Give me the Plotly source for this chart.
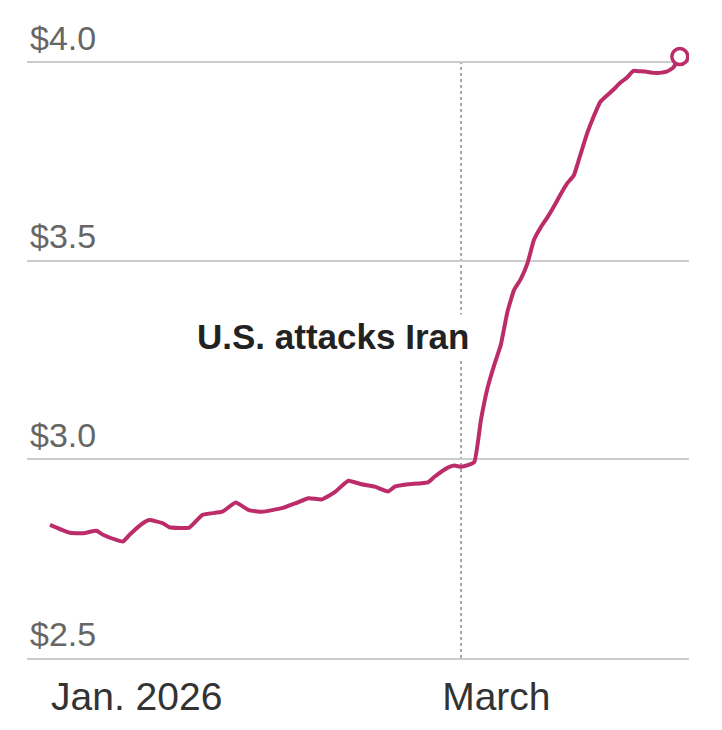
import pandas as pd
import plotly.graph_objects as go

# Daily average gas price (USD per gallon), days counted from Jan. 1, 2026
day_offsets = [0, 3, 5, 7, 8, 10, 11, 12, 14, 15, 17, 18, 21, 23, 26, 28, 30, 32, 35, 37,
               39, 41, 43, 45, 47, 49, 51, 52, 54, 57, 58, 60, 61, 62, 63, 64, 65, 66, 67, 68,
               69, 70, 71, 72, 73, 74, 75, 76, 77, 78, 79, 80, 81, 82, 83, 84, 85, 86, 87, 88,
               89, 90, 91, 92, 93, 94, 95]
prices = [2.835, 2.815, 2.814, 2.820, 2.810, 2.797, 2.793, 2.810, 2.839, 2.847, 2.839, 2.829,
          2.828, 2.860, 2.868, 2.891, 2.872, 2.868, 2.877, 2.889, 2.902, 2.899, 2.918, 2.946,
          2.937, 2.931, 2.919, 2.931, 2.937, 2.942, 2.956, 2.979, 2.984, 2.981, 2.985, 2.993,
          3.099, 3.180, 3.237, 3.288, 3.371, 3.426, 3.453, 3.492, 3.552, 3.583, 3.608, 3.636,
          3.666, 3.694, 3.714, 3.766, 3.819, 3.862, 3.899, 3.915, 3.930, 3.947, 3.960, 3.977,
          3.976, 3.975, 3.972, 3.972, 3.975, 3.985, 4.013]

start_date = pd.Timestamp("2026-01-01")
dates = [start_date + pd.Timedelta(days=d) for d in day_offsets]

tick_dates = ["2026-01-01", "2026-03-01"]
tick_labels = ["Jan. 2026", "March"]
y_ticks = [2.5, 3.0, 3.5, 4.0]
y_tick_labels = ["$2.5", "$3.0", "$3.5", "$4.0"]

event_date = "2026-03-04"
event_label = "U.S. attacks Iran"

x_range = [start_date - pd.Timedelta(days=3.47), start_date + pd.Timedelta(days=96.38)]

LINE_COLOR = "#bb2c68"
GRID_COLOR = "#cccccc"

fig = go.Figure()
fig.add_trace(go.Scatter(
    x=dates, y=prices, mode="lines",
    line=dict(color=LINE_COLOR, width=4, shape="spline", smoothing=0.4),
    hoverinfo="skip", showlegend=False,
))
fig.add_trace(go.Scatter(
    x=[dates[-1]], y=[prices[-1]], mode="markers",
    marker=dict(size=16, color="white", line=dict(color=LINE_COLOR, width=3.5)),
    hoverinfo="skip", showlegend=False, cliponaxis=True,
))

fig.add_shape(type="line", xref="x", yref="y",
              x0=event_date, x1=event_date, y0=2.5, y1=4.0,
              line=dict(color="#8a8a8a", width=1.5, dash="dot"), layer="below")

fig.add_annotation(x=event_date, y=3.31, xref="x", yref="y",
                   text="<b>" + event_label + "</b>", showarrow=False,
                   xanchor="right", yanchor="middle", xshift=11,
                   bgcolor="white", borderpad=2,
                   font=dict(family="Liberation Sans, Arial, sans-serif", size=35, color="#222222"))

fig.update_layout(
    width=722, height=730,
    margin=dict(l=27, r=33, t=22, b=63),
    paper_bgcolor="white", plot_bgcolor="white",
    font=dict(family="Liberation Sans, Arial, sans-serif"),
    xaxis=dict(
        type="date", range=x_range,
        tickvals=tick_dates, ticktext=tick_labels,
        ticklabelposition="outside right", ticklabeloverflow="allow", ticks="",
        showgrid=False, zeroline=False,
        showline=True, linecolor=GRID_COLOR, linewidth=2,
        tickfont=dict(size=39, color="#333333"),
        ticklabelstandoff=3,
    ),
    yaxis=dict(
        range=[2.5, 4.1],
        tickvals=y_ticks, ticktext=y_tick_labels,
        ticklabelposition="inside", ticklabeloverflow="allow", ticks="",
        ticklabelshift=-24, ticklabelstandoff=0,
        showgrid=True, gridcolor=GRID_COLOR, gridwidth=2,
        zeroline=False, showline=False,
        tickfont=dict(size=34, color="#666666"),
    ),
)

fig.write_html("out.html", config={"displayModeBar": False, "staticPlot": True},
               post_script="document.body.style.margin='0';")
